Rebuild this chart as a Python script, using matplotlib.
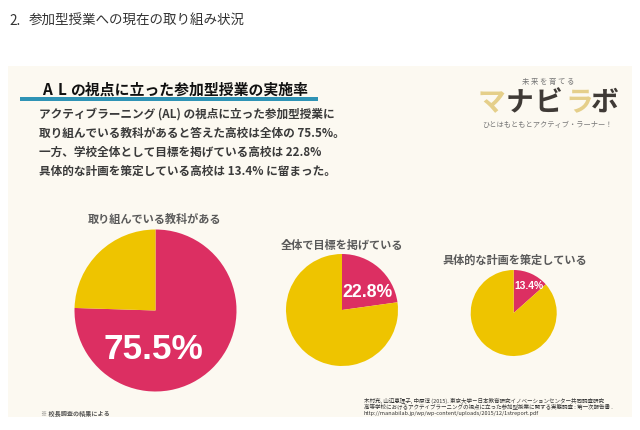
import matplotlib
matplotlib.use('Agg')
import matplotlib.pyplot as plt
from matplotlib.patches import Rectangle

plt.rcParams['font.family'] = ['Noto Sans CJK JP', 'DejaVu Sans']

PINK = '#dc2f62'
YELLOW = '#eec400'
CREAM = '#fcf9f1'
DARK = '#3a3a3a'

pie_titles = ['取り組んでいる教科がある', '全体で目標を掲げている', '具体的な計画を策定している']
pie_values = [75.5, 22.8, 13.4]
pie_labels = ['75.5%', '22.8%', '13.4%']

body_lines = [
    'アクティブラーニング (AL) の視点に立った参加型授業に',
    '取り組んでいる教科があると答えた高校は全体の 75.5%。',
    '一方、学校全体として目標を掲げている高校は 22.8%',
    '具体的な計画を策定している高校は 13.4% に留まった。',
]
note_lines = [
    '木村充, 山辺恵理子, 中原淳 (2015). 東京大学－日本教育研究イノベーションセンター共同調査研究',
    '高等学校におけるアクティブラーニングの視点に立った参加型授業に関する実態調査 : 第一次報告書 .',
    'http://manabilab.jp/wp/wp-content/uploads/2015/12/1streport.pdf',
]

W, H = 640, 431
fig = plt.figure(figsize=(W / 100, H / 100), dpi=100)

# background axes, pies go on top of it and the text axes on top of those
bg = fig.add_axes([0, 0, 1, 1], zorder=0)
bg.set_xlim(0, W)
bg.set_ylim(H, 0)
bg.axis('off')
bg.add_patch(Rectangle((8, 67), 624, 351, fc=CREAM, ec='none'))
bg.add_patch(Rectangle((20, 98), 298, 4, fc='#2f93b5', ec='none'))

top = fig.add_axes([0, 0, 1, 1], zorder=5)
top.set_xlim(0, W)
top.set_ylim(H, 0)
top.axis('off')
top.patch.set_alpha(0)


def draw_pie(cx, cy, r, value):
    ax = fig.add_axes([(cx - r) / W, 1 - (cy + r) / H, 2 * r / W, 2 * r / H], zorder=2)
    ax.pie([value, 100 - value], colors=[PINK, YELLOW], startangle=90, counterclock=False, radius=1.0)
    ax.set_xlim(-1, 1)
    ax.set_ylim(-1, 1)


draw_pie(155.5, 311.5, 81, pie_values[0])
draw_pie(342, 311, 56, pie_values[1])
draw_pie(513.7, 314, 43, pie_values[2])

for (x, y, fs), label in zip([(153, 350, 25.4), (367.5, 293, 12.7), (528.5, 285.7, 7.4)], pie_labels):
    top.text(x, y, label, fontsize=fs, fontweight='bold', family='Liberation Sans', color='white',
             ha='center', va='center')

for (x, y), title in zip([(155, 219), (342, 245), (514.5, 260)], pie_titles):
    top.text(x, y, title, fontsize=8.05, fontweight='bold', color='#5a5a5a', ha='center', va='center')

top.text(9, 21, '2.', fontsize=9.7, color='#333333', va='center')
top.text(29, 21, '参加型授業への現在の取り組み状況', fontsize=9.75, color='#333333', va='center')

# the A and L are set wide apart in the title
top.text(42, 90, 'A', fontsize=11, fontweight='bold', color='#111111', va='center')
top.text(58, 90, 'L', fontsize=11, fontweight='bold', color='#111111', va='center')
top.text(70, 90, 'の視点に立った参加型授業の実施率', fontsize=10.7, fontweight='bold', color='#111111', va='center')
for i, line in enumerate(body_lines):
    top.text(39, 114 + i * 19, line, fontsize=8.4, fontweight='bold', color=DARK, va='center')

top.text(41, 413.5, '※ 校長調査の結果による', fontsize=4.4, fontweight='bold', color='#555555', va='center')
for y, line in zip([400.7, 407.5, 414], note_lines):
    top.text(364, y, line, fontsize=4.0, color='#333333', va='center')

# logo
top.text(548, 82, '未 来 を 育 て る', fontsize=5.3, color='#777777', ha='center', va='center')
for x, ch, col in zip([491, 519, 548.5, 579, 605], 'マナビラボ',
                      ['#e5cf8a', '#3f3a36', '#3f3a36', '#e5cf8a', '#3f3a36']):
    top.text(x, 103, ch, fontsize=20, fontweight='bold', color=col, ha='center', va='center')
top.text(547, 125, 'ひとはもともとアクティブ・ラーナー！', fontsize=5.2, color='#777777', ha='center', va='center')

fig.savefig('out.png', dpi=100)
